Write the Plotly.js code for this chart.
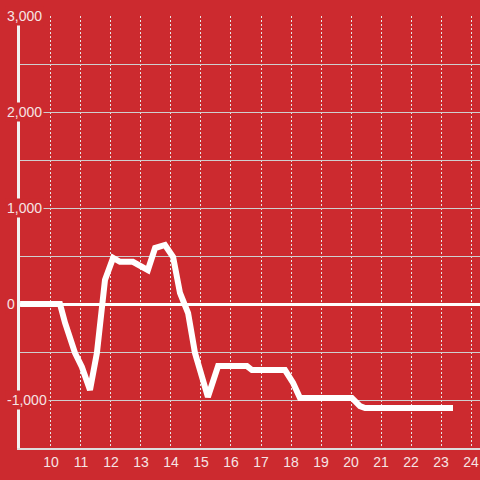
<!DOCTYPE html>
<html>
<head>
<meta charset="utf-8">
<script src="https://cdn.plot.ly/plotly-3.0.1.min.js"></script>
<style>html,body{margin:0;padding:0;background:#cc2a2f;}</style>
</head>
<body>
<div id="chart" style="width:480px;height:480px;"></div>
<script>
// Data
const hours = [8.97, 10.3, 10.47, 10.8, 11.03, 11.3, 11.53, 11.8, 12.07, 12.3, 12.73, 13.23, 13.47, 13.8, 14.07, 14.3, 14.57, 14.8, 15.23, 15.57, 16.53, 16.7, 17.8, 18.07, 18.3, 20.03, 20.3, 20.47, 23.4];
const values = [0, 0, -198, -510, -656, -896, -510, 250, 480, 440, 440, 354, 583, 615, 490, 115, -94, -510, -969, -646, -646, -688, -688, -823, -979, -979, -1063, -1083, -1083];
const yTickVals = [3000, 2000, 1000, 0, -1000];
const yTickText = ['3,000', '2,000', '1,000', '0', '-1,000'];
const xTickVals = [10, 11, 12, 13, 14, 15, 16, 17, 18, 19, 20, 21, 22, 23, 24];

const bg = '#cc2a2f';
const textColor = '#f6e4e4';

const annotations = yTickVals.map((v, i) => ({
  xref: 'paper', yref: 'y', x: -0.0326, y: v,
  xanchor: 'left', yanchor: 'middle',
  text: yTickText[i], showarrow: false,
  bgcolor: bg, borderpad: 1,
  font: {family: 'Liberation Sans, Arial, sans-serif', size: 14, color: textColor}
}));

const trace = {
  x: hours, y: values, type: 'scatter', mode: 'lines',
  line: {color: '#ffffff', width: 6},
  hoverinfo: 'skip'
};

const layout = {
  width: 480, height: 480,
  margin: {l: 20, r: 0, t: 16, b: 32},
  paper_bgcolor: bg, plot_bgcolor: bg,
  showlegend: false,
  font: {family: 'Liberation Sans, Arial, sans-serif', size: 14, color: textColor},
  xaxis: {
    range: [8.967, 24.3],
    tickvals: xTickVals,
    showgrid: true, gridcolor: '#e6e6e6', gridwidth: 1, griddash: '2px,2px',
    showline: true, linecolor: '#dddddd', linewidth: 2,
    zeroline: false, ticks: '',
    tickfont: {size: 14, color: textColor}
  },
  yaxis: {
    range: [-1500, 3000],
    tick0: 0, dtick: 500,
    showticklabels: false,
    showgrid: true, gridcolor: '#cfcfcf', gridwidth: 1,
    zeroline: true, zerolinecolor: '#ffffff', zerolinewidth: 3,
    showline: true, linecolor: '#f2f2f2', linewidth: 3,
    ticks: ''
  },
  annotations: annotations
};

Plotly.newPlot('chart', [trace], layout, {displayModeBar: false, staticPlot: true});
</script>
</body>
</html>
